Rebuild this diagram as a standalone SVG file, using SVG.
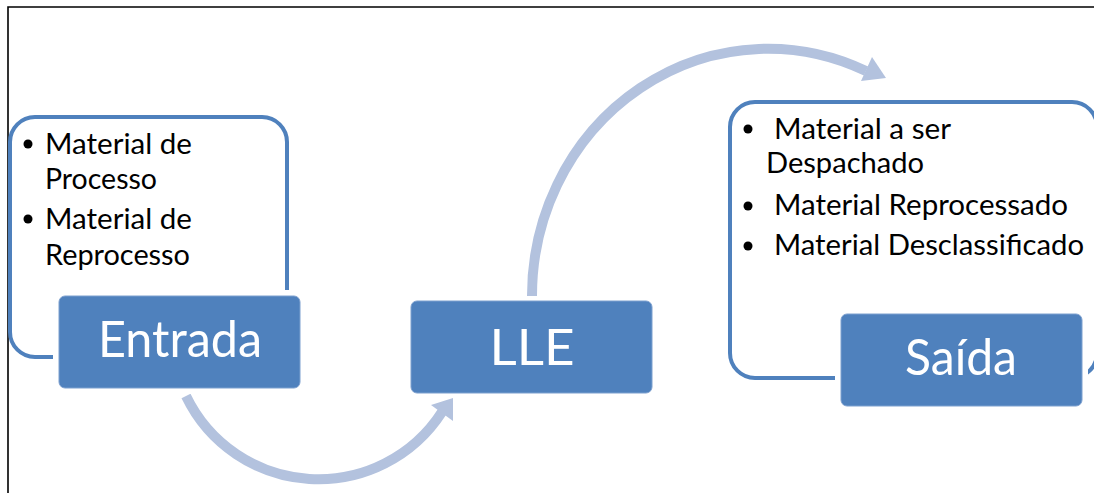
<svg xmlns="http://www.w3.org/2000/svg" width="1094" height="493" viewBox="0 0 1094 493">
<style>
.frame{fill:none;stroke:#000;stroke-width:1.6}
.outline{fill:#fff;stroke:#4f81bd;stroke-width:4}
.gap{fill:#fff}
.box{fill:#4f81bd;stroke:#7da0cf;stroke-width:1}
.big{font-family:Lato,"Open Sans",sans-serif;font-size:50px;fill:#fff;text-anchor:middle}
.item{font-family:Lato,"Open Sans",sans-serif;font-size:28px;fill:#000}
.bullet{fill:#000}
.arc{fill:none;stroke:#b3c2de;stroke-width:10}
.head{fill:#b3c2de}
</style>
<path class="frame" d="M8,493 V7 H1094"/>
<g id="connectors">
  <path class="arc" d="M186,396 A147,147 0 0 0 442,412"/>
  <polygon class="head" points="453,398 453,421 431,405"/>
  <path class="arc" d="M532,296 A236,247 0 0 1 866,71"/>
  <polygon class="head" points="886,78 872,57 861,81"/>
</g>
<g id="entrada-details">
  <rect class="outline" x="10" y="117" width="277" height="240" rx="25"/>
  <circle class="bullet" cx="28" cy="144" r="4.5"/>
  <text class="item" x="45" y="154" textLength="147" lengthAdjust="spacingAndGlyphs">Material de</text>
  <text class="item" x="45" y="189" textLength="112" lengthAdjust="spacingAndGlyphs">Processo</text>
  <circle class="bullet" cx="28" cy="219" r="4.5"/>
  <text class="item" x="45" y="229" textLength="147" lengthAdjust="spacingAndGlyphs">Material de</text>
  <text class="item" x="45" y="265" textLength="145" lengthAdjust="spacingAndGlyphs">Reprocesso</text>
</g>
<g id="entrada">
  <rect class="gap" x="53" y="290" width="253" height="104" rx="8"/>
  <rect class="box" x="59" y="296" width="241" height="92" rx="6"/>
  <text class="big" x="180" y="357" textLength="164" lengthAdjust="spacingAndGlyphs">Entrada</text>
</g>
<g id="lle">
  <rect class="box" x="411" y="301" width="241" height="92" rx="6"/>
  <text class="big" x="532" y="365" textLength="85" lengthAdjust="spacingAndGlyphs">LLE</text>
</g>
<g id="saida-details">
  <rect class="outline" x="730" y="102" width="367" height="276" rx="25"/>
  <circle class="bullet" cx="748" cy="129" r="4.5"/>
  <text class="item" x="774" y="139" textLength="177" lengthAdjust="spacingAndGlyphs">Material a ser</text>
  <text class="item" x="766" y="173" textLength="158" lengthAdjust="spacingAndGlyphs">Despachado</text>
  <circle class="bullet" cx="748" cy="206" r="4.5"/>
  <text class="item" x="774" y="215" textLength="294" lengthAdjust="spacingAndGlyphs">Material Reprocessado</text>
  <circle class="bullet" cx="748" cy="246" r="4.5"/>
  <text class="item" x="774" y="255" textLength="310" lengthAdjust="spacingAndGlyphs">Material Desclassificado</text>
</g>
<g id="saida">
  <rect class="gap" x="835" y="308" width="253" height="104" rx="8"/>
  <rect class="box" x="841" y="314" width="241" height="92" rx="6"/>
  <text class="big" x="961" y="375" textLength="112" lengthAdjust="spacingAndGlyphs">Saída</text>
</g>
</svg>
